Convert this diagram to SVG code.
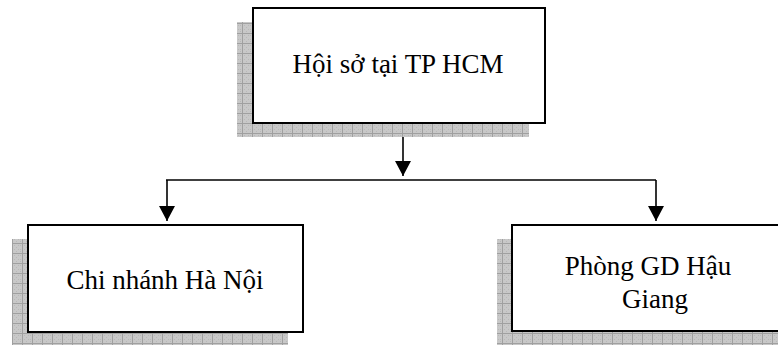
<svg xmlns="http://www.w3.org/2000/svg" width="778" height="345" viewBox="0 0 778 345">
<style>
.box{fill:#fff;stroke:#000;stroke-width:2}
.shadow{stroke:none}
.lbl{font-family:"Liberation Serif","Times New Roman",serif;font-size:27px;fill:#000;text-anchor:middle}
.conn{fill:none;stroke:#000;stroke-width:1.6}
</style>
<defs>
<pattern id="grid" patternUnits="userSpaceOnUse" width="10" height="10" x="2" y="3">
<rect width="10" height="10" fill="#c8c8c8"/>
<path d="M0 0h1v1h-1zM2 2h1v1h-1zM4 4h1v1h-1zM6 6h1v1h-1zM8 8h1v1h-1zM4 0h1v1h-1zM8 2h1v1h-1zM2 6h1v1h-1zM6 2h1v1h-1zM0 4h1v1h-1zM8 6h1v1h-1zM0 8h1v1h-1zM4 8h1v1h-1z" fill="#b8b8b8"/>
<path d="M0 0.5H10M0.5 0V10" stroke="#a0a0a0" stroke-width="1"/>
</pattern>
<marker id="arr" viewBox="0 0 15 16" refX="15" refY="8" markerWidth="15" markerHeight="16" markerUnits="userSpaceOnUse" orient="auto">
<path d="M0 0L15 8L0 16z" fill="#000"/>
</marker>
</defs>
<g id="connectors">
<line class="conn" x1="403" y1="123" x2="403" y2="176" marker-end="url(#arr)"/>
<line class="conn" x1="166" y1="180" x2="656" y2="180"/>
<line class="conn" x1="167" y1="180" x2="167" y2="221" marker-end="url(#arr)"/>
<line class="conn" x1="656" y1="180" x2="656" y2="221" marker-end="url(#arr)"/>
</g>
<g id="node-hoiso">
<rect class="shadow" x="237" y="22" width="292" height="115" fill="url(#grid)"/>
<rect class="box" x="253" y="8" width="292" height="115"/>
<text class="lbl" x="398" y="73">Hội sở tại TP HCM</text>
</g>
<g id="node-hanoi">
<rect class="shadow" x="12" y="239" width="276" height="106" fill="url(#grid)"/>
<rect class="box" x="28" y="225" width="275" height="107"/>
<text class="lbl" x="165" y="289">Chi nhánh Hà Nội</text>
</g>
<g id="node-haugiang">
<rect class="shadow" x="497" y="239" width="290" height="106" fill="url(#grid)"/>
<rect class="box" x="512" y="225" width="290" height="106"/>
<text class="lbl" x="648" y="275">Phòng GD Hậu</text>
<text class="lbl" x="655" y="308">Giang</text>
</g>
</svg>
